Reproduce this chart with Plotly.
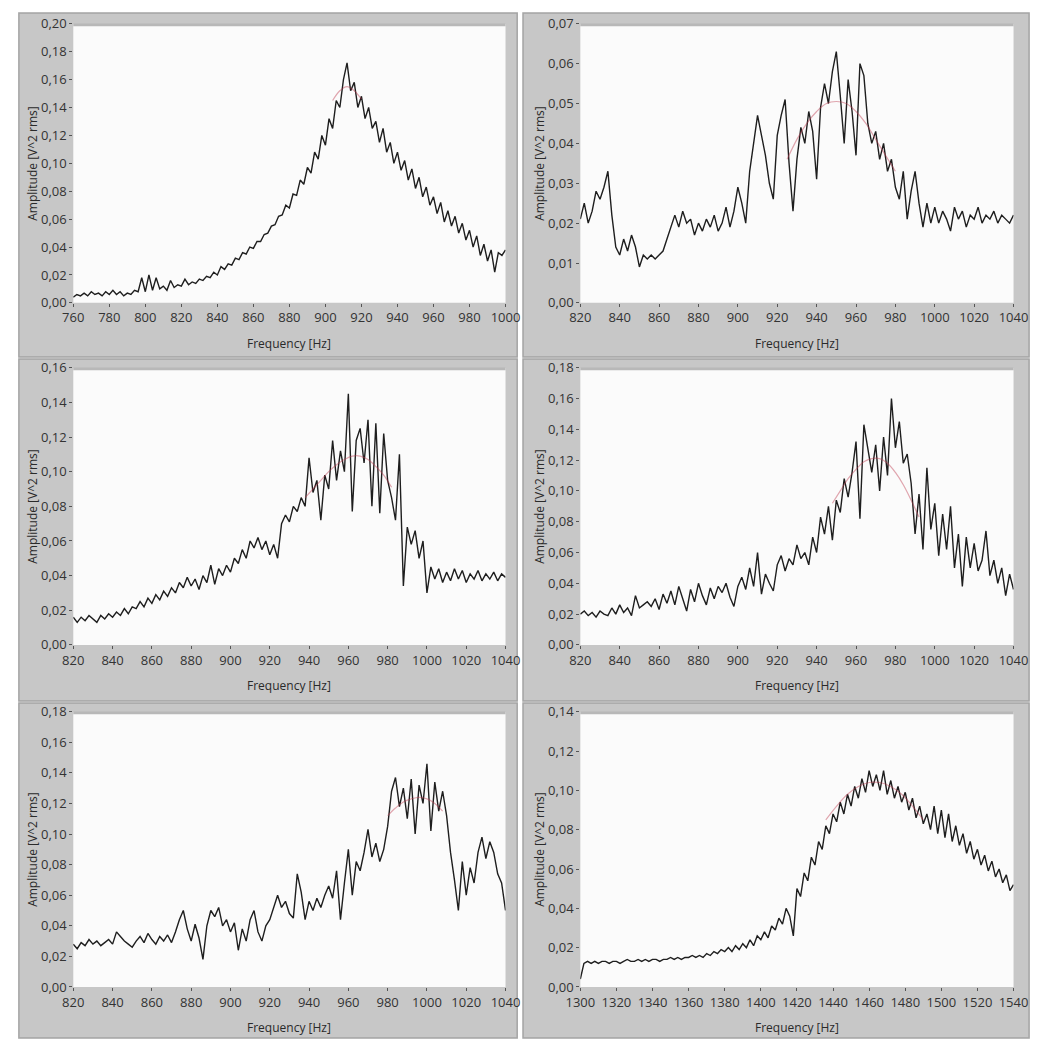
import numpy as np
import plotly.graph_objects as go

# ---------------- measured spectra (2 Hz bins) ----------------
f1_range = (760, 1000)
amp1 = [0.004, 0.006, 0.005, 0.007, 0.005, 0.008, 0.006, 0.007, 0.005, 0.008,
        0.006, 0.009, 0.006, 0.008, 0.005, 0.007, 0.006, 0.009, 0.008, 0.018,
        0.008, 0.020, 0.009, 0.018, 0.010, 0.012, 0.009, 0.016, 0.011, 0.013,
        0.012, 0.017, 0.013, 0.015, 0.014, 0.017, 0.016, 0.019, 0.018, 0.022,
        0.020, 0.026, 0.024, 0.028, 0.027, 0.032, 0.031, 0.036, 0.035, 0.040,
        0.039, 0.044, 0.044, 0.049, 0.050, 0.055, 0.056, 0.062, 0.063, 0.070,
        0.068, 0.078, 0.077, 0.088, 0.085, 0.097, 0.093, 0.108, 0.103, 0.120,
        0.113, 0.132, 0.125, 0.145, 0.140, 0.160, 0.172, 0.152, 0.158, 0.140,
        0.148, 0.132, 0.140, 0.125, 0.130, 0.115, 0.125, 0.108, 0.115, 0.100,
        0.108, 0.095, 0.102, 0.088, 0.096, 0.082, 0.090, 0.076, 0.083, 0.070,
        0.076, 0.064, 0.072, 0.058, 0.066, 0.055, 0.062, 0.050, 0.057, 0.045,
        0.052, 0.040, 0.048, 0.034, 0.042, 0.030, 0.038, 0.022, 0.036, 0.034,
        0.038]
fit1_f = [904, 908, 912, 916, 920]
fit1_a = [0.145, 0.152, 0.155, 0.152, 0.146]

f2_range = (820, 1040)
amp2 = [0.021, 0.025, 0.020, 0.023, 0.028, 0.026, 0.029, 0.033, 0.022, 0.014,
        0.012, 0.016, 0.013, 0.017, 0.014, 0.009, 0.012, 0.011, 0.012, 0.011,
        0.012, 0.013, 0.016, 0.019, 0.022, 0.019, 0.023, 0.020, 0.021, 0.017,
        0.020, 0.018, 0.021, 0.019, 0.022, 0.018, 0.020, 0.024, 0.019, 0.023,
        0.029, 0.025, 0.020, 0.033, 0.040, 0.047, 0.042, 0.037, 0.030, 0.026,
        0.042, 0.047, 0.051, 0.035, 0.023, 0.036, 0.044, 0.040, 0.048, 0.043,
        0.031, 0.049, 0.055, 0.050, 0.058, 0.063, 0.052, 0.040, 0.056, 0.048,
        0.037, 0.060, 0.057, 0.045, 0.040, 0.043, 0.036, 0.040, 0.033, 0.036,
        0.029, 0.026, 0.033, 0.021, 0.028, 0.033, 0.025, 0.019, 0.025, 0.020,
        0.024, 0.020, 0.023, 0.021, 0.018, 0.024, 0.021, 0.023, 0.019, 0.022,
        0.021, 0.024, 0.020, 0.022, 0.021, 0.023, 0.020, 0.022, 0.021, 0.020,
        0.022]
fit2_f = [925, 930, 935, 940, 945, 950, 955, 960, 965, 970, 975, 980]
fit2_a = [0.036, 0.041, 0.045, 0.048, 0.050, 0.0505, 0.050, 0.048, 0.045, 0.041, 0.037, 0.033]

f3_range = (820, 1040)
amp3 = [0.016, 0.013, 0.016, 0.014, 0.017, 0.015, 0.013, 0.017, 0.015, 0.018,
        0.016, 0.019, 0.017, 0.021, 0.018, 0.022, 0.021, 0.025, 0.022, 0.027,
        0.024, 0.029, 0.026, 0.031, 0.028, 0.033, 0.030, 0.036, 0.033, 0.039,
        0.034, 0.038, 0.032, 0.040, 0.036, 0.046, 0.035, 0.044, 0.040, 0.046,
        0.042, 0.050, 0.047, 0.055, 0.050, 0.060, 0.056, 0.062, 0.055, 0.060,
        0.052, 0.058, 0.050, 0.070, 0.075, 0.071, 0.080, 0.077, 0.085, 0.080,
        0.108, 0.088, 0.095, 0.072, 0.098, 0.090, 0.118, 0.095, 0.112, 0.100,
        0.145, 0.077, 0.118, 0.125, 0.105, 0.130, 0.080, 0.128, 0.076, 0.122,
        0.095, 0.085, 0.072, 0.110, 0.034, 0.068, 0.058, 0.066, 0.050, 0.060,
        0.030, 0.045, 0.038, 0.044, 0.036, 0.042, 0.037, 0.044, 0.038, 0.043,
        0.036, 0.041, 0.038, 0.043, 0.037, 0.041, 0.038, 0.042, 0.037, 0.041,
        0.039]
fit3_f = [938, 942, 946, 950, 954, 958, 962, 966, 970, 974, 978, 982]
fit3_a = [0.085, 0.090, 0.095, 0.100, 0.104, 0.107, 0.109, 0.109, 0.107, 0.103, 0.098, 0.091]

f4_range = (820, 1040)
amp4 = [0.020, 0.022, 0.019, 0.021, 0.018, 0.022, 0.020, 0.019, 0.024, 0.020,
        0.026, 0.021, 0.024, 0.019, 0.032, 0.024, 0.026, 0.028, 0.025, 0.030,
        0.023, 0.033, 0.027, 0.035, 0.026, 0.038, 0.030, 0.022, 0.036, 0.028,
        0.040, 0.032, 0.026, 0.037, 0.030, 0.038, 0.034, 0.040, 0.031, 0.025,
        0.038, 0.044, 0.036, 0.050, 0.038, 0.060, 0.033, 0.046, 0.040, 0.035,
        0.052, 0.058, 0.048, 0.056, 0.052, 0.065, 0.056, 0.060, 0.052, 0.070,
        0.060, 0.083, 0.072, 0.090, 0.068, 0.094, 0.086, 0.108, 0.096, 0.112,
        0.132, 0.082, 0.143, 0.126, 0.112, 0.130, 0.100, 0.135, 0.110, 0.160,
        0.128, 0.145, 0.118, 0.124, 0.105, 0.072, 0.098, 0.062, 0.115, 0.075,
        0.092, 0.058, 0.085, 0.062, 0.090, 0.050, 0.072, 0.038, 0.070, 0.050,
        0.066, 0.048, 0.055, 0.074, 0.045, 0.055, 0.040, 0.050, 0.032, 0.046,
        0.036]
fit4_f = [948, 952, 956, 960, 964, 968, 972, 976, 980, 984, 988, 992]
fit4_a = [0.092, 0.100, 0.108, 0.114, 0.119, 0.121, 0.121, 0.118, 0.112, 0.104, 0.094, 0.083]

f5_range = (820, 1040)
amp5 = [0.028, 0.025, 0.029, 0.027, 0.031, 0.028, 0.030, 0.027, 0.029, 0.031,
        0.028, 0.036, 0.033, 0.030, 0.028, 0.026, 0.030, 0.033, 0.029, 0.035,
        0.031, 0.028, 0.033, 0.030, 0.034, 0.029, 0.036, 0.044, 0.050, 0.038,
        0.030, 0.041, 0.032, 0.018, 0.040, 0.050, 0.046, 0.052, 0.040, 0.044,
        0.036, 0.042, 0.024, 0.038, 0.030, 0.044, 0.050, 0.036, 0.030, 0.040,
        0.044, 0.052, 0.060, 0.052, 0.056, 0.048, 0.045, 0.074, 0.062, 0.044,
        0.056, 0.050, 0.058, 0.052, 0.060, 0.066, 0.058, 0.076, 0.044, 0.068,
        0.090, 0.060, 0.082, 0.076, 0.088, 0.103, 0.085, 0.094, 0.082, 0.090,
        0.105, 0.128, 0.137, 0.118, 0.130, 0.110, 0.136, 0.100, 0.132, 0.120,
        0.146, 0.102, 0.134, 0.115, 0.128, 0.112, 0.088, 0.070, 0.050, 0.082,
        0.060, 0.078, 0.068, 0.088, 0.098, 0.084, 0.095, 0.088, 0.074, 0.068,
        0.050]
fit5_f = [980, 984, 988, 992, 996, 1000, 1004, 1008]
fit5_a = [0.112, 0.117, 0.121, 0.123, 0.124, 0.123, 0.120, 0.115]

f6_range = (1300, 1540)
amp6 = [0.004, 0.012, 0.013, 0.012, 0.013, 0.012, 0.013, 0.013, 0.012, 0.013,
        0.013, 0.012, 0.013, 0.014, 0.013, 0.013, 0.014, 0.013, 0.014, 0.013,
        0.014, 0.014, 0.013, 0.014, 0.014, 0.015, 0.014, 0.015, 0.014, 0.015,
        0.015, 0.016, 0.015, 0.016, 0.015, 0.017, 0.016, 0.018, 0.017, 0.019,
        0.018, 0.020, 0.018, 0.021, 0.019, 0.022, 0.020, 0.024, 0.021, 0.026,
        0.024, 0.028, 0.025, 0.031, 0.029, 0.035, 0.032, 0.040, 0.036, 0.026,
        0.050, 0.046, 0.058, 0.054, 0.066, 0.062, 0.074, 0.070, 0.082, 0.078,
        0.088, 0.084, 0.094, 0.088, 0.098, 0.092, 0.102, 0.096, 0.106, 0.099,
        0.110, 0.102, 0.108, 0.100, 0.110, 0.098, 0.105, 0.096, 0.102, 0.094,
        0.099, 0.090, 0.096, 0.086, 0.092, 0.083, 0.088, 0.080, 0.092, 0.078,
        0.090, 0.076, 0.088, 0.074, 0.082, 0.072, 0.078, 0.068, 0.074, 0.065,
        0.070, 0.062, 0.067, 0.059, 0.064, 0.056, 0.060, 0.053, 0.057, 0.049,
        0.052]
fit6_f = [1436, 1442, 1448, 1454, 1460, 1466, 1472, 1478, 1484, 1490]
fit6_a = [0.085, 0.092, 0.098, 0.102, 0.104, 0.104, 0.102, 0.098, 0.092, 0.085]

y_max = [0.20, 0.07, 0.16, 0.18, 0.18, 0.14]
y_step = [0.02, 0.01, 0.02, 0.02, 0.02, 0.02]

panels = [
    (f1_range, amp1, fit1_f, fit1_a),
    (f2_range, amp2, fit2_f, fit2_a),
    (f3_range, amp3, fit3_f, fit3_a),
    (f4_range, amp4, fit4_f, fit4_a),
    (f5_range, amp5, fit5_f, fit5_a),
    (f6_range, amp6, fit6_f, fit6_a),
]

# ---------------- page geometry (pixels) ----------------
W, H = 1047, 1050
col_px = [(60, 505), (582, 1028)]
row_px = [(15, 299), (365, 647), (715, 995)]
frame_col = [(4, 517), (523, 1044)]
frame_row = [(4, 354), (356, 704), (706, 1047)]


def px_x(v):
    return v / W


def px_y(v):
    return 1 - v / H


fig = go.Figure()
layout = dict(
    width=W, height=H,
    margin=dict(l=0, r=0, t=0, b=0),
    paper_bgcolor="white",
    plot_bgcolor="#fbfbfb",
    showlegend=False,
    separators=",.",
    font=dict(family="Open Sans, Liberation Sans, sans-serif", color="#2a2a2a"),
)

shapes = []
annotations = []
tick_font = dict(size=13, color="#333333", family="Open Sans, sans-serif")

for i, (frange, amp, fit_f, fit_a) in enumerate(panels):
    r, c = divmod(i, 2)
    n = i + 1
    xa = "x" if n == 1 else f"x{n}"
    ya = "y" if n == 1 else f"y{n}"
    x0p, x1p = col_px[c]
    y0p, y1p = row_px[r]

    # grey instrument frame behind each graph, white plotting surface on top
    fx0, fx1 = frame_col[c]
    fy0, fy1 = frame_row[r]
    shapes.append(dict(type="rect", xref="paper", yref="paper", layer="below",
                       x0=px_x(fx0), x1=px_x(fx1), y0=px_y(fy1), y1=px_y(fy0),
                       fillcolor="#c7c7c7", line=dict(color="#a4a4a4", width=1.5)))
    shapes.append(dict(type="rect", xref="paper", yref="paper", layer="below",
                       x0=px_x(x0p), x1=px_x(x1p), y0=px_y(y1p), y1=px_y(y0p),
                       fillcolor="#fbfbfb", line=dict(width=0)))
    shapes.append(dict(type="line", xref="paper", yref="paper", layer="below",
                       x0=px_x(x0p), x1=px_x(x1p), y0=px_y(y0p + 1), y1=px_y(y0p + 1),
                       line=dict(color="#b8b8b8", width=3)))

    freqs = np.linspace(frange[0], frange[1], len(amp))
    fig.add_trace(go.Scatter(x=freqs, y=amp, mode="lines", xaxis=xa, yaxis=ya,
                             line=dict(color="#1e1e1e", width=1.4)))
    fig.add_trace(go.Scatter(x=fit_f, y=fit_a, mode="lines", xaxis=xa, yaxis=ya,
                             line=dict(color="rgba(190,60,80,0.45)", width=1.2,
                                       shape="spline")))

    layout["xaxis" if n == 1 else f"xaxis{n}"] = dict(
        domain=[px_x(x0p), px_x(x1p)], anchor=ya, range=list(frange),
        dtick=20, tick0=0, ticks="outside", ticklen=3, tickcolor="#555",
        showgrid=False, zeroline=False, showline=False,
        tickfont=tick_font,
    )
    layout["yaxis" if n == 1 else f"yaxis{n}"] = dict(
        domain=[px_y(y1p), px_y(y0p)], anchor=xa, range=[0, y_max[i]],
        dtick=y_step[i], tick0=0, tickformat=".2f", ticks="outside", ticklen=3,
        tickcolor="#555", showgrid=False, zeroline=False, showline=False,
        tickfont=tick_font,
    )

    # axis captions
    annotations.append(dict(text="Frequency [Hz]", xref="paper", yref="paper",
                            x=px_x((x0p + x1p) / 2), y=px_y(y1p + 41),
                            xanchor="center", yanchor="middle",
                            showarrow=False, font=dict(size=12, color="#2a2a2a")))
    annotations.append(dict(text="Amplitude [V^2 rms]", xref="paper", yref="paper",
                            x=px_x(x0p - 42), y=px_y((y0p + y1p) / 2),
                            xanchor="center", yanchor="middle",
                            textangle=-90, showarrow=False,
                            font=dict(size=12, color="#2a2a2a")))

layout["shapes"] = shapes
layout["annotations"] = annotations
fig.update_layout(**layout)
fig.write_html("out.html")
